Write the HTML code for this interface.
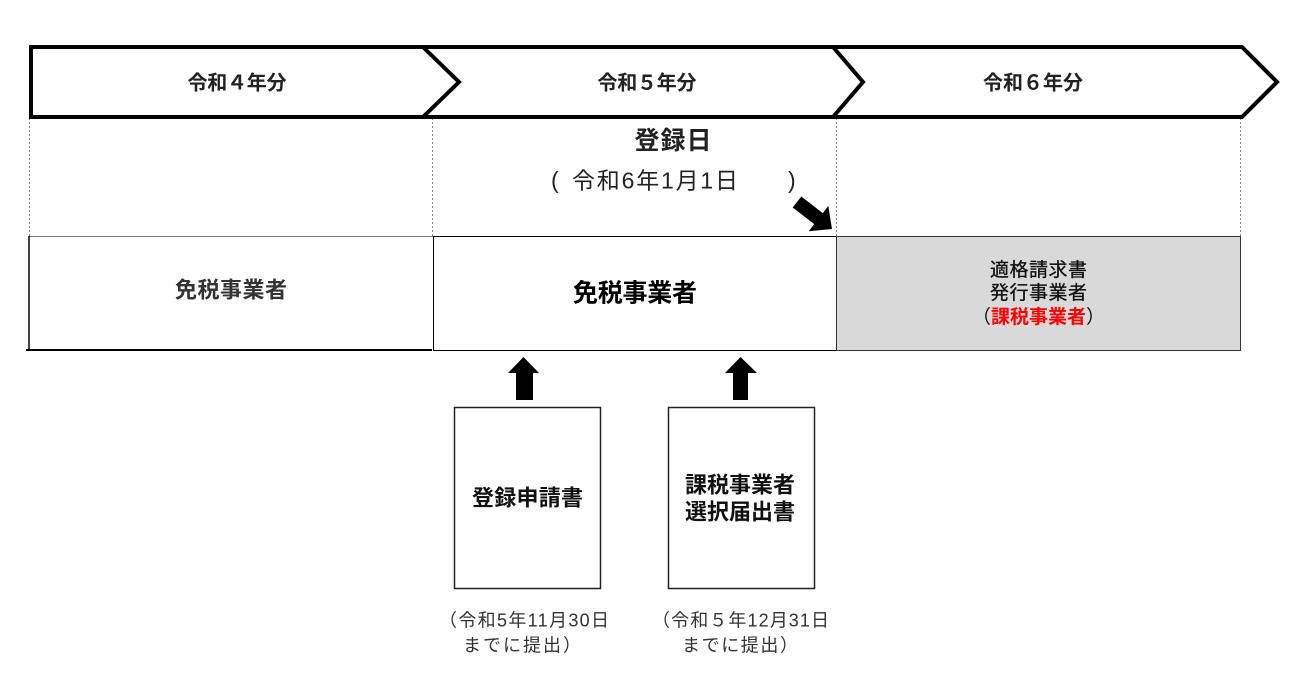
<!DOCTYPE html>
<html><head><meta charset="utf-8"><style>
html,body{margin:0;padding:0;background:#fff;}
svg{display:block;}
text{font-family:"Liberation Sans","Noto Sans CJK JP",sans-serif;}
</style></head><body>
<svg width="1297" height="679" viewBox="0 0 1297 679" xmlns="http://www.w3.org/2000/svg">
<rect width="1297" height="679" fill="#fff"/>
<!-- dashed verticals -->
<g stroke="#8a8a8a" stroke-width="1" stroke-dasharray="2,2">
<line x1="29.5" y1="118" x2="29.5" y2="236"/>
<line x1="432.5" y1="118" x2="432.5" y2="236"/>
<line x1="836.5" y1="118" x2="836.5" y2="236"/>
<line x1="1240.5" y1="118" x2="1240.5" y2="236"/>
</g>
<!-- chevron band -->
<g fill="none" stroke="#000" stroke-width="4" stroke-linejoin="miter">
<path d="M31 47 L1242 47 L1277 82 L1242 117 L31 117 Z"/>
<polyline points="423,47 459,82 423,117"/>
<polyline points="833,47 863,82 833,117"/>
</g>
<g font-weight="700" font-size="20" fill="#222" text-anchor="middle">
<text x="237" y="89.5" textLength="99">令和４年分</text>
<text x="647" y="89.5" textLength="99">令和５年分</text>
<text x="1033" y="89.5" textLength="100">令和６年分</text>
</g>
<!-- registration date -->
<text x="673" y="149" font-size="25" font-weight="700" fill="#222" text-anchor="middle" textLength="77">登録日</text>
<text x="551" y="188" font-size="23" fill="#222">(</text>
<text x="572" y="188.5" font-size="23" fill="#222" textLength="166">令和6年1月1日</text>
<text x="788" y="188" font-size="23" fill="#222">)</text>
<polygon points="801.3,196.5 822.8,213.1 828.3,205.9 832,229 808.7,231.3 814.2,224.1 792.7,207.5" fill="#000"/>
<!-- row boxes -->
<line x1="29" y1="236.5" x2="433" y2="236.5" stroke="#777" stroke-width="1"/>
<line x1="29" y1="236" x2="29" y2="350" stroke="#000" stroke-width="1.5"/>
<line x1="26" y1="350" x2="432" y2="350" stroke="#000" stroke-width="2"/>
<rect x="433.5" y="236.5" width="403" height="114" fill="#fff" stroke="#000" stroke-width="1"/>
<rect x="836.5" y="236.5" width="404" height="114" fill="#d9d9d9" stroke="#333" stroke-width="1"/>
<text x="231" y="297.5" font-size="22" font-weight="700" fill="#333" text-anchor="middle" textLength="112">免税事業者</text>
<text x="635" y="301.5" font-size="25" font-weight="700" fill="#000" text-anchor="middle" textLength="124">免税事業者</text>
<g font-size="19" fill="#111" text-anchor="middle">
<text x="1038.5" y="276" textLength="97" stroke="#111" stroke-width="0.3">適格請求書</text>
<text x="1038.5" y="299" textLength="97" stroke="#111" stroke-width="0.3">発行事業者</text>
<text x="1038.5" y="323">（<tspan fill="#ff0000" font-weight="700">課税事業者</tspan>）</text>
</g>
<!-- up arrows -->
<polygon points="523.5,357 539,373 533,373 533,400 516,400 516,373 508,373" fill="#000"/>
<polygon points="740.5,357 757,373 748,373 748,400 733,400 733,373 725,373" fill="#000"/>
<!-- document boxes -->
<rect x="454.5" y="407.5" width="146" height="181" fill="#fff" stroke="#222" stroke-width="1.5"/>
<rect x="668.5" y="407.5" width="146" height="181" fill="#fff" stroke="#222" stroke-width="1.5"/>
<g font-size="22" font-weight="700" fill="#111" text-anchor="middle">
<text x="527.5" y="505.5" textLength="111">登録申請書</text>
<text x="740" y="492.5" textLength="110">課税事業者</text>
<text x="740" y="519.5" textLength="110">選択届出書</text>
</g>
<!-- captions -->
<g font-size="18" fill="#333">
<text x="439" y="626.5" textLength="170">（令和5年11月30日</text>
<text x="463" y="651.5" textLength="118">までに提出）</text>
<text x="652" y="626.5" textLength="177">（令和５年12月31日</text>
<text x="682" y="651.5" textLength="116">までに提出）</text>
</g>
</svg>
</body></html>
